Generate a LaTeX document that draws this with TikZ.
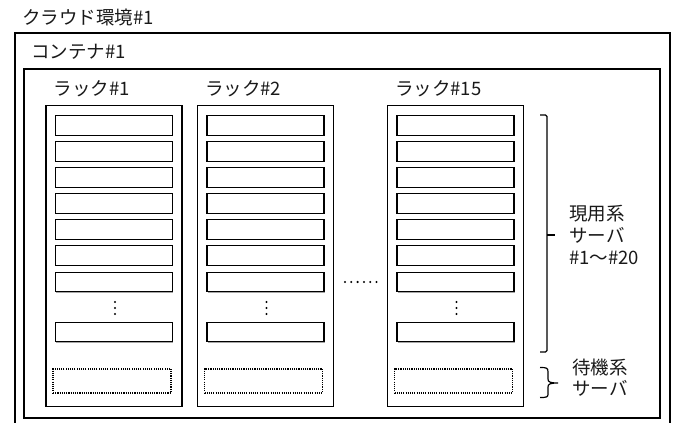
\documentclass[tikz,border=0pt]{standalone}
\usepackage{fontspec}
\setmainfont{Noto Sans CJK JP}
\usetikzlibrary{shadows}
\begin{document}
\begin{tikzpicture}[x=1pt,y=-1pt,
  lbl/.style={inner sep=0pt, anchor=west, text=black!90, font=\fontsize{18.5}{22}\selectfont},
  rackbox/.style={draw, line width=1.3pt, minimum width=136pt, minimum height=301.5pt, inner sep=0pt},
  srv/.style={draw, line width=1.2pt, fill=white, minimum width=117pt, minimum height=19.5pt, inner sep=0pt,
     drop shadow={shadow xshift=0.6pt, shadow yshift=-1.2pt, opacity=0.35, fill=black}},
  spare/.style={draw, line width=1.5pt, dash pattern=on 1.1pt off 1.1pt, minimum width=118pt, minimum height=24pt, inner sep=0pt},
  vdot/.style={circle, fill=black, inner sep=0pt, minimum size=2.3pt},
  brk/.style={line width=1.2pt, rounded corners=1.5pt}
]
\useasboundingbox (0,0) rectangle (675,423);
% cloud environment
\draw[line width=1.4pt] (15,424) -- (15,33) -- (670,33) -- (670,424);
\node[lbl] (cloudlbl) at (22,17) {クラウド環境\#1};
% container
\node[draw, line width=2pt, inner sep=0pt, minimum width=636pt, minimum height=349pt, anchor=north west] (cont) at (22.5,67.5) {};
\node[lbl] (contlbl) at (31,52) {コンテナ\#1};
% racks
\foreach \r/\x/\t in {1/114/ラック\#1, 2/265.5/ラック\#2, 15/455.5/ラック\#15}{
  \node[rackbox, anchor=north] (rack\r) at (\x,104.5) {};
  \node[lbl] (rack\r lbl) at ([xshift=8pt,yshift=16pt]rack\r.north west) {\t};
  \foreach \i/\y in {1/115,2/141,3/167,4/193,5/219,6/245,7/271.5,8/321.5}{
    \node[srv, anchor=north] (s\r-\i) at (\x,\y) {};
  }
  \foreach \d in {302,308,314}{
    \node[vdot] at (\x+1,\d) {};
  }
  \node[spare, anchor=north] (sp\r) at (\x-2,368) {};
}
% horizontal dots between racks
\foreach \d in {0,1,2,3,4,5}{
  \node[vdot] (hd\d) at (345+\d*6.3,282) {};
}
% bracket for active servers
\coordinate (b1) at (540,115);
\coordinate (b2) at (540,352);
\draw[brk] (b1) -- (547,115) -- (547,352) -- (b2);
\draw[line width=1.2pt] (547,235) -- (555,235);
\node[lbl, align=left] (actlbl) at (569,235) {現用系\\サーバ\\\#1〜\#20};
% brace for standby
\draw[line width=1.2pt] (540,367.5) .. controls (547,367.5) and (548,368) .. (548,372) -- (548,379)
  .. controls (548,382) and (550,383) .. (558,383)
  .. controls (550,383) and (548,384) .. (548,387) -- (548,394)
  .. controls (548,397) and (547,397.5) .. (540,397.5);
\node[lbl, align=left, font=\fontsize{18.5}{21}\selectfont] (stlbl) at (572,378) {待機系\\サーバ};
\end{tikzpicture}
\end{document}
